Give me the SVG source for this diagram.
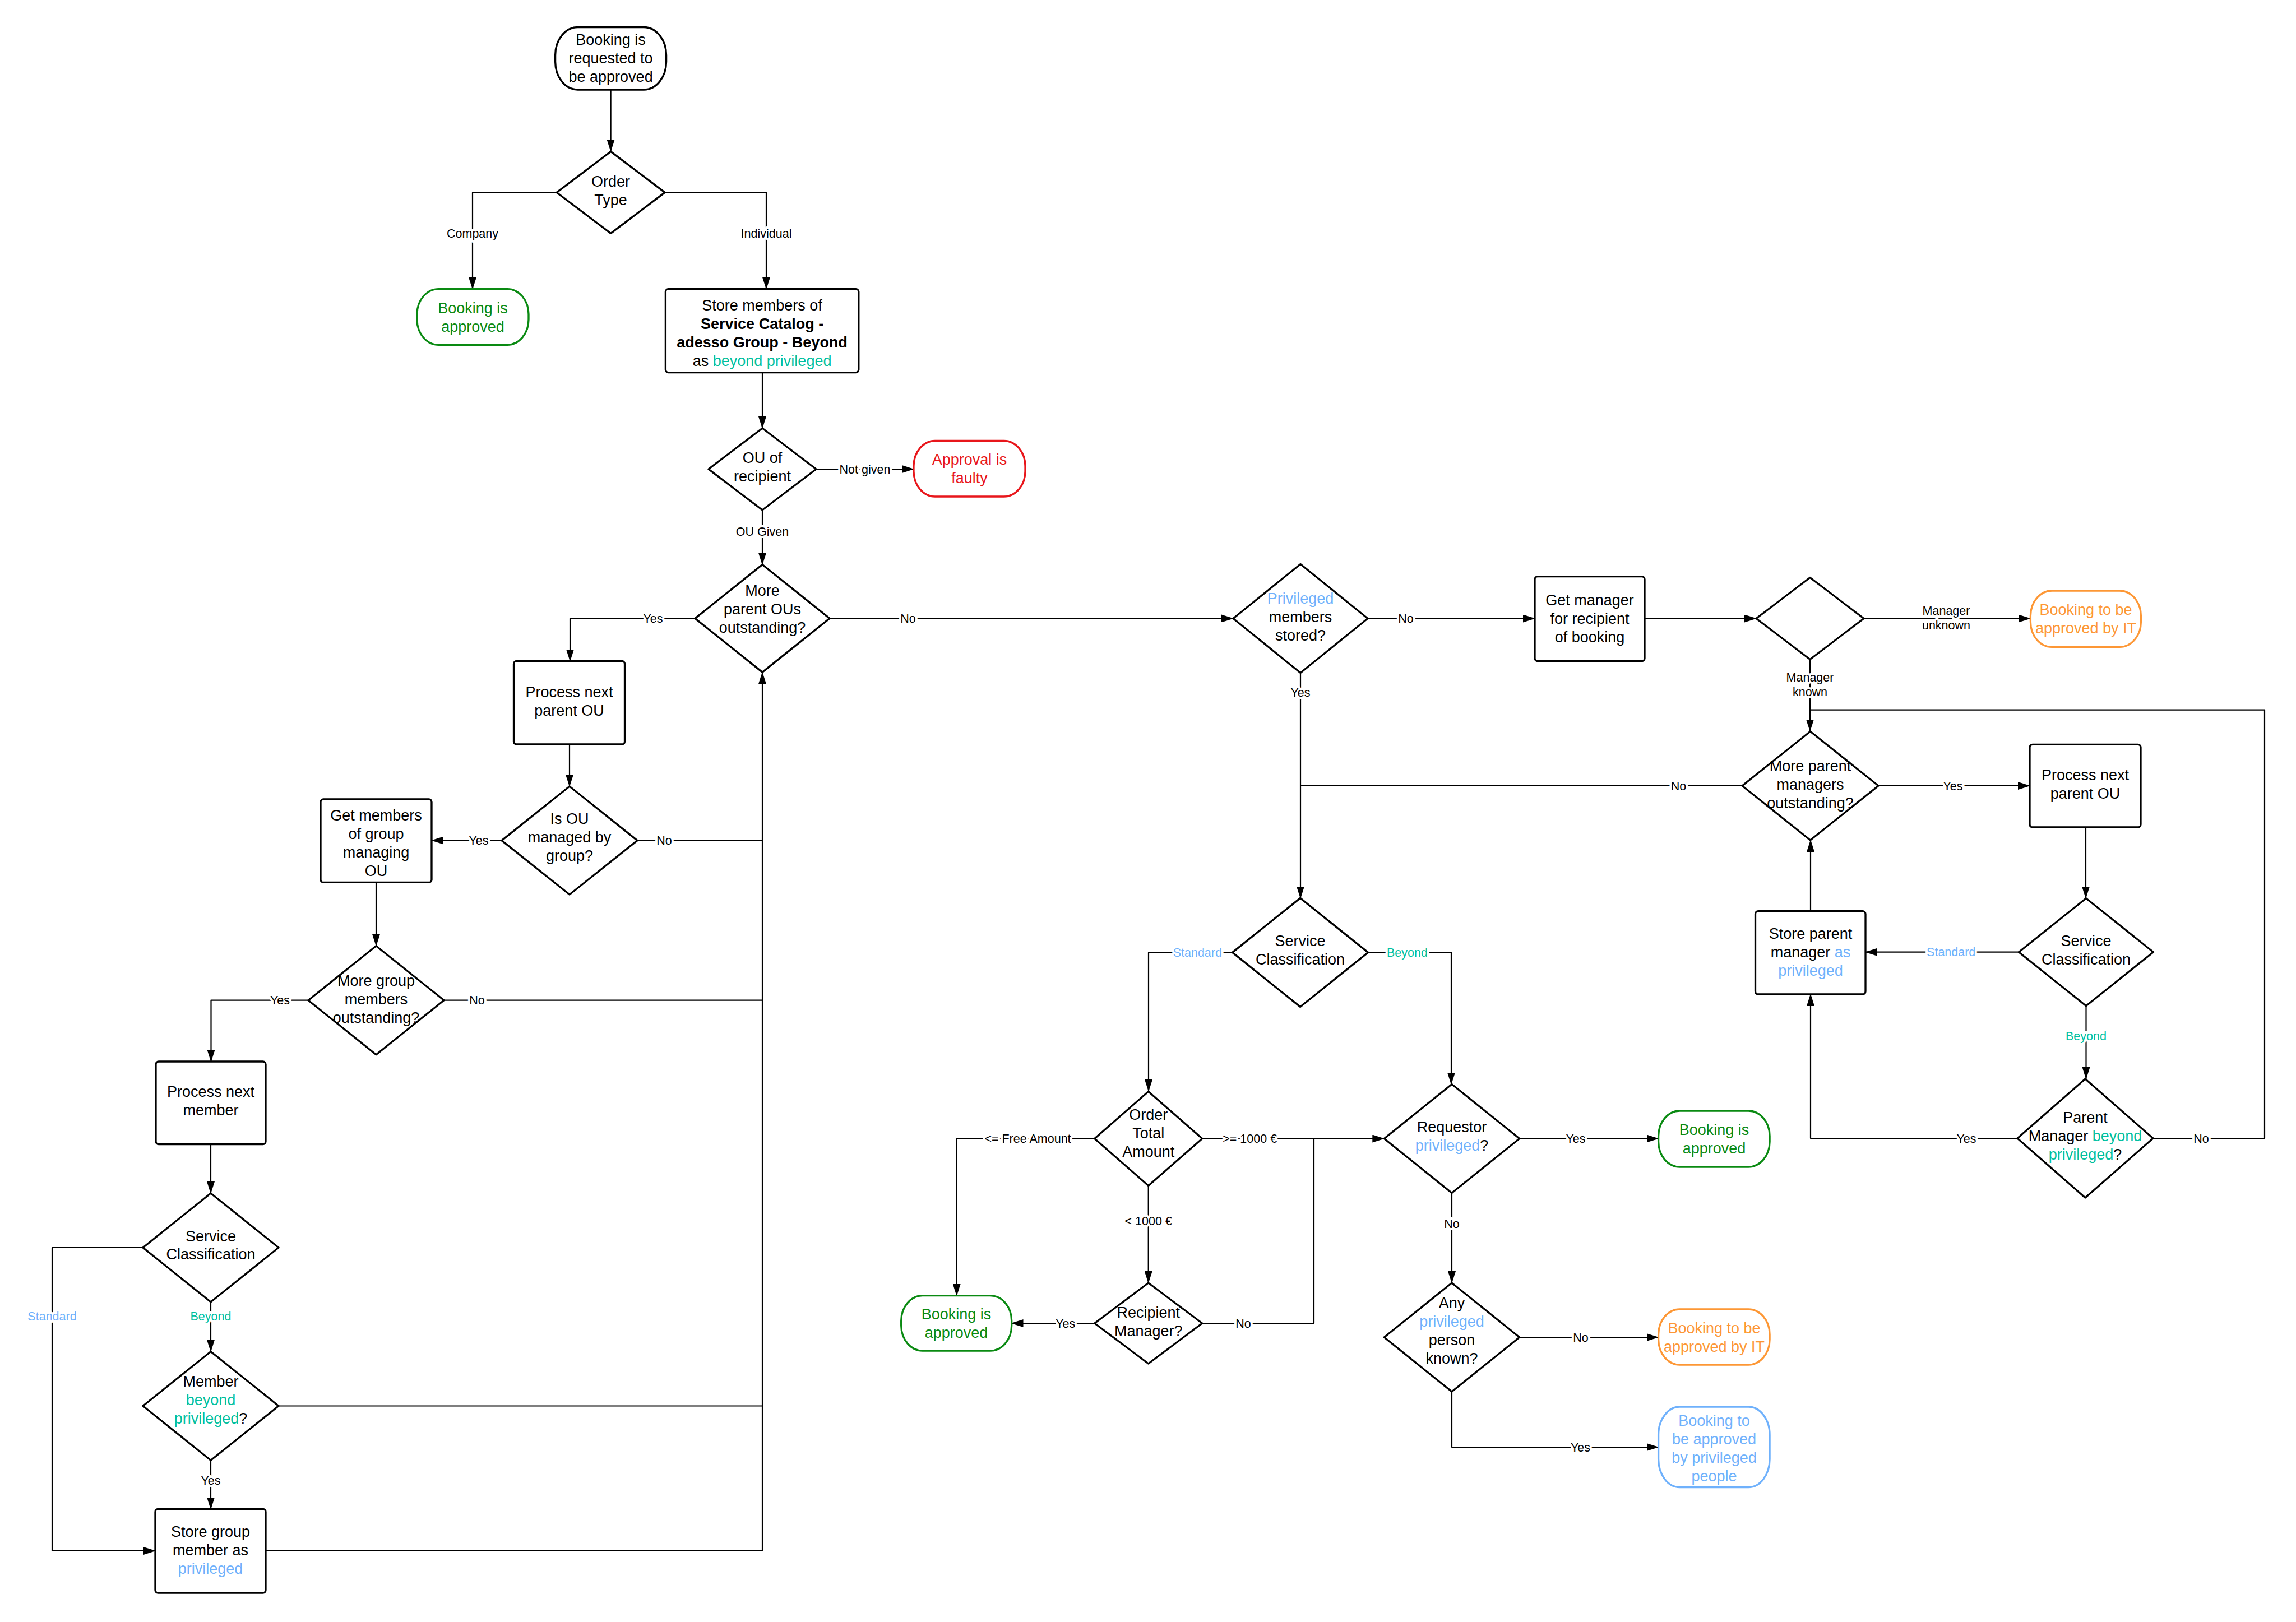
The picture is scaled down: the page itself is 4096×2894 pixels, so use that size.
<svg xmlns="http://www.w3.org/2000/svg" width="4096" height="2894" viewBox="0 0 4096 2894">
<style>
.bg{fill:#fff}
.n{fill:#fff;stroke:#000;stroke-width:3.3;stroke-linejoin:round}
.tg{fill:#fff;stroke:#0a8a12;stroke-width:3.3}
.tr{fill:#fff;stroke:#e8161b;stroke-width:3.3}
.to{fill:#fff;stroke:#fd9735;stroke-width:3.3}
.tb{fill:#fff;stroke:#6fb1fc;stroke-width:3.3}
text{font-family:"Liberation Sans",Arial,sans-serif;text-anchor:middle}
.t{font-size:27px;fill:#000}
.l{font-size:21.5px;fill:#000;paint-order:stroke;stroke:#fff;stroke-width:8px;stroke-linejoin:round}
.c{fill:none;stroke:#000;stroke-width:2.2;stroke-linejoin:round}
.G{fill:#0a8a12}
.R{fill:#e8161b}
.O{fill:#fd9735}
.B{fill:#6fb1fc}
.T{fill:#00c0a0}
.b{font-weight:bold}
</style>
<defs>
<marker id="a" markerUnits="userSpaceOnUse" markerWidth="22" markerHeight="14" refX="21" refY="7" orient="auto">
<path d="M0,0 L22,7 L0,14 z" fill="#000"/>
</marker>
</defs>
<rect class="bg" x="0" y="0" width="4096" height="2894"/>

<g id="connectors">
<path class="c" marker-end="url(#a)" d="M1089.6,160 V270"/>
<path class="c" marker-end="url(#a)" d="M993,343.4 H843 V515.6"/>
<path class="c" marker-end="url(#a)" d="M1186,343.4 H1367 V515.6"/>
<path class="c" marker-end="url(#a)" d="M1360,664.5 V764"/>
<path class="c" marker-end="url(#a)" d="M1456,837 H1630"/>
<path class="c" marker-end="url(#a)" d="M1360,910 V1007.4"/>
<path class="c" marker-end="url(#a)" d="M1240,1103.4 H1017 V1179.5"/>
<path class="c" marker-end="url(#a)" d="M1016,1328 V1403"/>
<path class="c" marker-end="url(#a)" d="M895,1499.6 H770"/>
<path class="c" d="M1137,1499.6 H1360"/>
<path class="c" marker-end="url(#a)" d="M671,1574.4 V1687.7"/>
<path class="c" marker-end="url(#a)" d="M550,1784.7 H376.5 V1894"/>
<path class="c" d="M792,1784.7 H1360"/>
<path class="c" marker-end="url(#a)" d="M376,2041.5 V2129"/>
<path class="c" marker-end="url(#a)" d="M255,2226 H93 V2767 H277"/>
<path class="c" marker-end="url(#a)" d="M376,2323 V2411.5"/>
<path class="c" d="M497,2508.5 H1360"/>
<path class="c" marker-end="url(#a)" d="M376,2605.5 V2692.5"/>
<path class="c" marker-end="url(#a)" d="M474,2767 H1360 V1199.4"/>
<path class="c" marker-end="url(#a)" d="M1480,1103.4 H2200"/>
<path class="c" marker-end="url(#a)" d="M2440,1103.5 H2738"/>
<path class="c" marker-end="url(#a)" d="M2934,1103.5 H3133"/>
<path class="c" marker-end="url(#a)" d="M3325,1103.5 H3622"/>
<path class="c" marker-end="url(#a)" d="M3229,1176.5 V1304.5"/>
<path class="c" d="M3108,1402 H2320"/>
<path class="c" marker-end="url(#a)" d="M3351,1402 H3621"/>
<path class="c" marker-end="url(#a)" d="M3721,1476 V1602.6"/>
<path class="c" marker-end="url(#a)" d="M3601.5,1698.7 H3328"/>
<path class="c" marker-end="url(#a)" d="M3230,1625.6 V1499"/>
<path class="c" marker-end="url(#a)" d="M3721.5,1794.7 V1925"/>
<path class="c" marker-end="url(#a)" d="M3599,2031 H3230 V1774"/>
<path class="c" d="M3841,2031 H4040 V1266.7 H3229"/>
<path class="c" marker-end="url(#a)" d="M2320,1200.5 V1602.6"/>
<path class="c" marker-end="url(#a)" d="M2198.6,1699.4 H2049 V1947"/>
<path class="c" marker-end="url(#a)" d="M2440.6,1699.4 H2589 V1934.6"/>
<path class="c" marker-end="url(#a)" d="M1952.7,2031.5 H1706.7 V2311.7"/>
<path class="c" marker-end="url(#a)" d="M2144.7,2031.5 H2469.3"/>
<path class="c" marker-end="url(#a)" d="M2048.7,2115.5 V2289"/>
<path class="c" marker-end="url(#a)" d="M1952.7,2361 H1804.5"/>
<path class="c" d="M2144.7,2361 H2344 V2031.5"/>
<path class="c" marker-end="url(#a)" d="M2710.7,2031.5 H2958.6"/>
<path class="c" marker-end="url(#a)" d="M2590,2128.5 V2289"/>
<path class="c" marker-end="url(#a)" d="M2710.7,2386 H2958.6"/>
<path class="c" marker-end="url(#a)" d="M2590,2483 V2582 H2958.6"/>

<text class="l" x="843" y="424">Company</text>
<text class="l" x="1367" y="424">Individual</text>
<text class="l" x="1543" y="844.5">Not given</text>
<text class="l" x="1360" y="955.5">OU Given</text>
<text class="l" x="1165" y="1111">Yes</text>
<text class="l" x="854" y="1507">Yes</text>
<text class="l" x="1185" y="1507">No</text>
<text class="l" x="499.5" y="1792">Yes</text>
<text class="l" x="851" y="1792">No</text>
<text class="l B" x="93" y="2356">Standard</text>
<text class="l T" x="376" y="2356">Beyond</text>
<text class="l" x="376" y="2648.5">Yes</text>
<text class="l" x="1620" y="1111">No</text>
<text class="l" x="2508" y="1111">No</text>
<text class="l" x="3472" y="1096.5">Manager</text>
<text class="l" x="3472" y="1122.5">unknown</text>
<text class="l" x="3229" y="1215.5">Manager</text>
<text class="l" x="3229" y="1241.5">known</text>
<text class="l" x="2320" y="1242.5">Yes</text>
<text class="l" x="2994.6" y="1409.5">No</text>
<text class="l" x="3484" y="1409.5">Yes</text>
<text class="l B" x="3480.7" y="1706">Standard</text>
<text class="l T" x="3721.5" y="1855.5">Beyond</text>
<text class="l" x="3508" y="2038.5">Yes</text>
<text class="l" x="3927" y="2038.5">No</text>
<text class="l B" x="2136.3" y="1707">Standard</text>
<text class="l T" x="2510.5" y="1707">Beyond</text>
<text class="l" x="1833.5" y="2039">&lt;= Free Amount</text>
<text class="l" x="2229.7" y="2039">&gt;= 1000 €</text>
<text class="l" x="2048.7" y="2186">&lt; 1000 €</text>
<text class="l" x="1900.8" y="2368.5">Yes</text>
<text class="l" x="2218" y="2368.5">No</text>
<text class="l" x="2811" y="2039">Yes</text>
<text class="l" x="2590" y="2190.5">No</text>
<text class="l" x="2820" y="2393.5">No</text>
<text class="l" x="2819.5" y="2589.5">Yes</text>
</g>

<g id="start">
<rect class="n" x="990.6" y="48.5" width="198" height="111.5" rx="40" ry="50"/>
<text class="t" x="1089.6" y="80">Booking is</text>
<text class="t" x="1089.6" y="113">requested to</text>
<text class="t" x="1089.6" y="146">be approved</text>
</g>

<g id="order-type">
<polygon class="n" points="1089.6,270.4 1186.1,343.4 1089.6,416.4 993.1,343.4"/>
<text class="t" x="1089.6" y="333">Order</text>
<text class="t" x="1089.6" y="366">Type</text>
</g>

<g id="approved-company">
<rect class="tg" x="744" y="515.6" width="199" height="99.7" rx="38" ry="45"/>
<text class="t G" x="843.5" y="558.5">Booking is</text>
<text class="t G" x="843.5" y="591.5">approved</text>
</g>

<g id="store-members">
<rect class="n" x="1187.4" y="515.6" width="344.4" height="149" rx="5"/>
<text class="t" x="1359.6" y="554">Store members of</text>
<text class="t b" x="1359.6" y="587">Service Catalog -</text>
<text class="t b" x="1359.6" y="620">adesso Group - Beyond</text>
<text class="t" x="1359.6" y="653">as <tspan class="T">beyond privileged</tspan></text>
</g>

<g id="ou-of-recipient">
<polygon class="n" points="1360,764 1456,837 1360,910 1264,837"/>
<text class="t" x="1360" y="826">OU of</text>
<text class="t" x="1360" y="859">recipient</text>
</g>

<g id="approval-faulty">
<rect class="tr" x="1630" y="786.5" width="199" height="99.5" rx="38" ry="45"/>
<text class="t R" x="1729.5" y="829">Approval is</text>
<text class="t R" x="1729.5" y="862">faulty</text>
</g>

<g id="more-parent-ous">
<polygon class="n" points="1360,1007.4 1480,1103.4 1360,1199.4 1240,1103.4"/>
<text class="t" x="1360" y="1062.5">More</text>
<text class="t" x="1360" y="1095.5">parent OUs</text>
<text class="t" x="1360" y="1128.5">outstanding?</text>
</g>

<g id="process-next-parent-ou">
<rect class="n" x="916.5" y="1179.5" width="198" height="148.5" rx="5"/>
<text class="t" x="1015.5" y="1243.5">Process next</text>
<text class="t" x="1015.5" y="1276.5">parent OU</text>
</g>

<g id="is-ou-managed">
<polygon class="n" points="1016,1403 1137,1499.6 1016,1596 895,1499.6"/>
<text class="t" x="1016" y="1469.5">Is OU</text>
<text class="t" x="1016" y="1502.5">managed by</text>
<text class="t" x="1016" y="1535.5">group?</text>
</g>

<g id="get-members">
<rect class="n" x="572" y="1426" width="198" height="148.4" rx="5"/>
<text class="t" x="671" y="1463.5">Get members</text>
<text class="t" x="671" y="1496.5">of group</text>
<text class="t" x="671" y="1529.5">managing</text>
<text class="t" x="671" y="1562.5">OU</text>
</g>

<g id="more-group-members">
<polygon class="n" points="671,1687.7 792,1784.7 671,1881.7 550,1784.7"/>
<text class="t" x="671" y="1758.5">More group</text>
<text class="t" x="671" y="1791.5">members</text>
<text class="t" x="671" y="1824.5">outstanding?</text>
</g>

<g id="process-next-member">
<rect class="n" x="278" y="1894" width="196" height="147.5" rx="5"/>
<text class="t" x="376" y="1956.5">Process next</text>
<text class="t" x="376" y="1989.5">member</text>
</g>

<g id="service-class-left">
<polygon class="n" points="376,2129 497,2226 376,2323 255,2226"/>
<text class="t" x="376" y="2214.5">Service</text>
<text class="t" x="376" y="2247">Classification</text>
</g>

<g id="member-beyond">
<polygon class="n" points="376,2411.5 497,2508.5 376,2605.5 255,2508.5"/>
<text class="t" x="376" y="2474">Member</text>
<text class="t T" x="376" y="2507">beyond</text>
<text class="t" x="376" y="2540"><tspan class="T">privileged</tspan>?</text>
</g>

<g id="store-group-member">
<rect class="n" x="277" y="2692.5" width="197" height="149.5" rx="5"/>
<text class="t" x="375.5" y="2742">Store group</text>
<text class="t" x="375.5" y="2775">member as</text>
<text class="t B" x="375.5" y="2808">privileged</text>
</g>

<g id="privileged-stored">
<polygon class="n" points="2320,1006.5 2440,1103.5 2320,1200.5 2200,1103.5"/>
<text class="t B" x="2320" y="1076.5">Privileged</text>
<text class="t" x="2320" y="1109.5">members</text>
<text class="t" x="2320" y="1142.5">stored?</text>
</g>

<g id="get-manager">
<rect class="n" x="2738" y="1028.6" width="196" height="151" rx="5"/>
<text class="t" x="2836" y="1080">Get manager</text>
<text class="t" x="2836" y="1113">for recipient</text>
<text class="t" x="2836" y="1146">of booking</text>
</g>

<g id="manager-decision">
<polygon class="n" points="3229,1030.5 3325,1103.5 3229,1176.5 3133,1103.5"/>
</g>

<g id="it-approval-top">
<rect class="to" x="3622.4" y="1054" width="197" height="100.4" rx="38" ry="45"/>
<text class="t O" x="3721" y="1097">Booking to be</text>
<text class="t O" x="3721" y="1130">approved by IT</text>
</g>

<g id="more-parent-managers">
<polygon class="n" points="3229.5,1305 3351,1402 3229.5,1499 3108,1402"/>
<text class="t" x="3229.5" y="1375.5">More parent</text>
<text class="t" x="3229.5" y="1408.5">managers</text>
<text class="t" x="3229.5" y="1441.5">outstanding?</text>
</g>

<g id="process-next-parent-ou-right">
<rect class="n" x="3621" y="1328.4" width="198" height="147.6" rx="5"/>
<text class="t" x="3720" y="1391.5">Process next</text>
<text class="t" x="3720" y="1424.5">parent OU</text>
</g>

<g id="service-class-right">
<polygon class="n" points="3721.5,1602.7 3841.5,1698.7 3721.5,1794.7 3601.5,1698.7"/>
<text class="t" x="3721.5" y="1688">Service</text>
<text class="t" x="3721.5" y="1721">Classification</text>
</g>

<g id="store-parent-manager">
<rect class="n" x="3131.5" y="1625.6" width="196.5" height="148.4" rx="5"/>
<text class="t" x="3230" y="1675">Store parent</text>
<text class="t" x="3230" y="1708">manager <tspan class="B">as</tspan></text>
<text class="t B" x="3230" y="1741">privileged</text>
</g>

<g id="parent-manager-beyond">
<polygon class="n" points="3720,1925 3841,2031 3720,2137 3599,2031"/>
<text class="t" x="3720" y="2003">Parent</text>
<text class="t" x="3720" y="2036">Manager <tspan class="T">beyond</tspan></text>
<text class="t" x="3720" y="2069"><tspan class="T">privileged</tspan>?</text>
</g>

<g id="approved-right">
<rect class="tg" x="2958.6" y="1982" width="198.5" height="100" rx="38" ry="45"/>
<text class="t G" x="3058" y="2025">Booking is</text>
<text class="t G" x="3058" y="2058">approved</text>
</g>

<g id="service-class-center">
<polygon class="n" points="2319.6,1602.4 2440.6,1699.4 2319.6,1796.4 2198.6,1699.4"/>
<text class="t" x="2319.6" y="1687.5">Service</text>
<text class="t" x="2319.6" y="1720.5">Classification</text>
</g>

<g id="order-total">
<polygon class="n" points="2048.7,1947.5 2144.7,2031.5 2048.7,2115.5 1952.7,2031.5"/>
<text class="t" x="2048.7" y="1998">Order</text>
<text class="t" x="2048.7" y="2031">Total</text>
<text class="t" x="2048.7" y="2064">Amount</text>
</g>

<g id="recipient-manager">
<polygon class="n" points="2048.7,2289 2144.7,2361 2048.7,2433 1952.7,2361"/>
<text class="t" x="2048.7" y="2351">Recipient</text>
<text class="t" x="2048.7" y="2384">Manager?</text>
</g>

<g id="approved-left">
<rect class="tg" x="1607.7" y="2311.7" width="197" height="98.4" rx="38" ry="45"/>
<text class="t G" x="1706" y="2354">Booking is</text>
<text class="t G" x="1706" y="2387">approved</text>
</g>

<g id="requestor-privileged">
<polygon class="n" points="2590,1934.5 2710.7,2031.5 2590,2128.5 2469.3,2031.5"/>
<text class="t" x="2590" y="2020">Requestor</text>
<text class="t" x="2590" y="2053"><tspan class="B">privileged</tspan>?</text>
</g>

<g id="any-privileged">
<polygon class="n" points="2590,2289 2710.7,2386 2590,2483 2469.3,2386"/>
<text class="t" x="2590" y="2334">Any</text>
<text class="t B" x="2590" y="2367">privileged</text>
<text class="t" x="2590" y="2400">person</text>
<text class="t" x="2590" y="2433">known?</text>
</g>

<g id="it-approval-bottom">
<rect class="to" x="2958.6" y="2336" width="198.5" height="99" rx="38" ry="45"/>
<text class="t O" x="3058" y="2378.5">Booking to be</text>
<text class="t O" x="3058" y="2411.5">approved by IT</text>
</g>

<g id="privileged-people">
<rect class="tb" x="2958.6" y="2510" width="198.5" height="143.6" rx="38" ry="50"/>
<text class="t B" x="3058" y="2543.5">Booking to</text>
<text class="t B" x="3058" y="2576.5">be approved</text>
<text class="t B" x="3058" y="2609.5">by privileged</text>
<text class="t B" x="3058" y="2642.5">people</text>
</g>
</svg>
